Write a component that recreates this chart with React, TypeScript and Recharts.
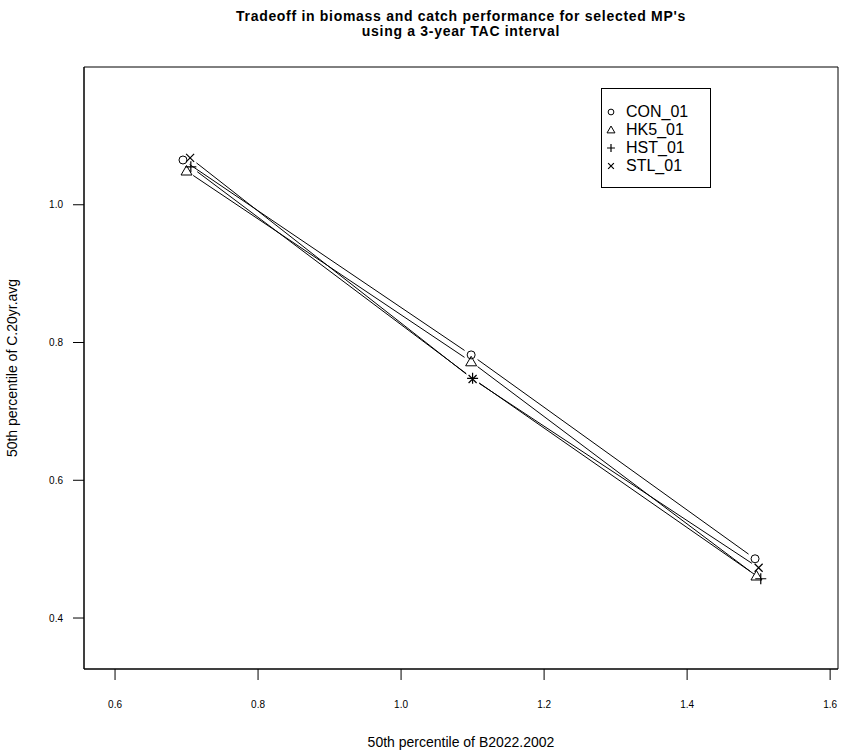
import React from "react";
import {
  ScatterChart,
  Scatter,
  XAxis,
  YAxis,
  ReferenceArea,
} from "recharts";

// (B2022.2002, C.20yr.avg) per MP
const conData = [
  { x: 0.695, y: 1.065 },
  { x: 1.098, y: 0.782 },
  { x: 1.495, y: 0.486 },
];
const hk5Data = [
  { x: 0.7, y: 1.049 },
  { x: 1.098, y: 0.772 },
  { x: 1.497, y: 0.461 },
];
const hstData = [
  { x: 0.706, y: 1.055 },
  { x: 1.1, y: 0.748 },
  { x: 1.503, y: 0.457 },
];
const stlData = [
  { x: 0.705, y: 1.068 },
  { x: 1.1, y: 0.747 },
  { x: 1.5, y: 0.473 },
];

const xTicks = [0.6, 0.8, 1.0, 1.2, 1.4, 1.6];
const yTicks = [0.4, 0.6, 0.8, 1.0];
const xDomain = [0.5566, 1.611];
const yDomain = [0.326, 1.2];
const seriesNames = ["CON_01", "HK5_01", "HST_01", "STL_01"];
const seriesSymbols = ["circle", "triangle", "plus", "cross"];

const FONT = "'Liberation Sans', Arial, sans-serif";

function Symbol({ kind, cx, cy, s = 1 }: { kind: string; cx: number; cy: number; s?: number }) {
  if (kind === "circle") {
    return <circle cx={cx} cy={cy} r={4 * s} fill="none" stroke="#000" strokeWidth={1} />;
  }
  if (kind === "triangle") {
    return (
      <polygon
        points={`${cx},${cy - 5.5 * s} ${cx - 5.5 * s},${cy + 4 * s} ${cx + 5.5 * s},${cy + 4 * s}`}
        fill="none"
        stroke="#000"
        strokeWidth={1}
      />
    );
  }
  if (kind === "plus") {
    return (
      <path
        d={`M${cx - 5.5 * s},${cy}H${cx + 5.5 * s}M${cx},${cy - 5.5 * s}V${cy + 5.5 * s}`}
        stroke="#000"
        strokeWidth={1.2}
      />
    );
  }
  return (
    <path
      d={`M${cx - 4 * s},${cy - 4 * s}L${cx + 4 * s},${cy + 4 * s}M${cx - 4 * s},${cy + 4 * s}L${cx + 4 * s},${cy - 4 * s}`}
      stroke="#000"
      strokeWidth={1.2}
    />
  );
}

const shapeFor = (kind: string) => (props: any) =>
  <Symbol kind={kind} cx={props.cx} cy={props.cy} />;

// R type="b": segments stop short of each point
const GAP = 8;
function GappedLine(props: any) {
  const pts = (props.points || []) as { x: number; y: number }[];
  const segs: React.ReactNode[] = [];
  for (let i = 0; i < pts.length - 1; i++) {
    const a = pts[i];
    const b = pts[i + 1];
    const dx = b.x - a.x;
    const dy = b.y - a.y;
    const len = Math.hypot(dx, dy);
    if (len <= 2 * GAP) continue;
    const ux = dx / len;
    const uy = dy / len;
    segs.push(
      <line
        key={i}
        x1={a.x + ux * GAP}
        y1={a.y + uy * GAP}
        x2={b.x - ux * GAP}
        y2={b.y - uy * GAP}
        stroke="#000"
        strokeWidth={1}
      />
    );
  }
  return <g>{segs}</g>;
}

function LegendBox() {
  return (
    <div
      style={{
        position: "absolute",
        left: 601,
        top: 88,
        border: "1px solid #000",
        background: "#fff",
        width: 110,
        height: 100,
        boxSizing: "border-box",
        paddingTop: 14,
        fontFamily: FONT,
        fontSize: 16,
      }}
    >
      {seriesNames.map((name, i) => (
        <div key={name} style={{ display: "flex", alignItems: "center", height: 18 }}>
          <svg width={24} height={18}>
            <Symbol kind={seriesSymbols[i]} cx={9} cy={9} s={0.72} />
          </svg>
          <span style={{ color: "#000" }}>{name}</span>
        </div>
      ))}
    </div>
  );
}

export default function App() {
  return (
    <div style={{ position: "absolute", left: 0, top: 0, width: 853, height: 756, background: "#fff" }}>
      <div
        style={{
          position: "absolute",
          left: 84,
          top: 9,
          width: 754,
          textAlign: "center",
          fontFamily: FONT,
          fontWeight: "bold",
          fontSize: 14,
          letterSpacing: 0.7,
          lineHeight: "15px",
          color: "#000",
        }}
      >
        Tradeoff in biomass and catch performance for selected MP's
        <br />
        using a 3-year TAC interval
      </div>
      <ScatterChart
        width={853}
        height={756}
        margin={{ top: 67, right: 15, left: 0, bottom: 0 }}
        style={{ fontFamily: FONT }}
      >
        <XAxis
          type="number"
          dataKey="x"
          domain={xDomain}
          ticks={xTicks}
          tickFormatter={(v: number) => v.toFixed(1)}
          height={87}
          tickSize={11}
          tickMargin={21}
          axisLine={{ stroke: "#000" }}
          tickLine={{ stroke: "#000" }}
          tick={{ fill: "#000", fontSize: 10 }}
          allowDataOverflow
          label={{
            value: "50th percentile of B2022.2002",
            position: "insideBottom",
            offset: 9,
            fill: "#000",
            fontSize: 14,
          }}
        />
        <YAxis
          type="number"
          dataKey="y"
          domain={yDomain}
          ticks={yTicks}
          tickFormatter={(v: number) => v.toFixed(1)}
          width={84}
          tickSize={11}
          tickMargin={10}
          axisLine={{ stroke: "#000" }}
          tickLine={{ stroke: "#000" }}
          tick={{ fill: "#000", fontSize: 10 }}
          allowDataOverflow
          label={{
            value: "50th percentile of C.20yr.avg",
            angle: -90,
            position: "insideLeft",
            offset: 12,
            fill: "#000",
            fontSize: 14,
            style: { textAnchor: "middle" },
          }}
        />
        <ReferenceArea
          x1={xDomain[0]}
          x2={xDomain[1]}
          y1={yDomain[0]}
          y2={yDomain[1]}
          fill="none"
          stroke="#000"
          strokeWidth={1}
        />
        <Scatter
          name="CON_01"
          data={conData}
          line={<GappedLine />}
          shape={shapeFor("circle")}
          isAnimationActive={false}
        />
        <Scatter
          name="HK5_01"
          data={hk5Data}
          line={<GappedLine />}
          shape={shapeFor("triangle")}
          isAnimationActive={false}
        />
        <Scatter
          name="HST_01"
          data={hstData}
          line={<GappedLine />}
          shape={shapeFor("plus")}
          isAnimationActive={false}
        />
        <Scatter
          name="STL_01"
          data={stlData}
          line={<GappedLine />}
          shape={shapeFor("cross")}
          isAnimationActive={false}
        />
      </ScatterChart>
      <LegendBox />
    </div>
  );
}
